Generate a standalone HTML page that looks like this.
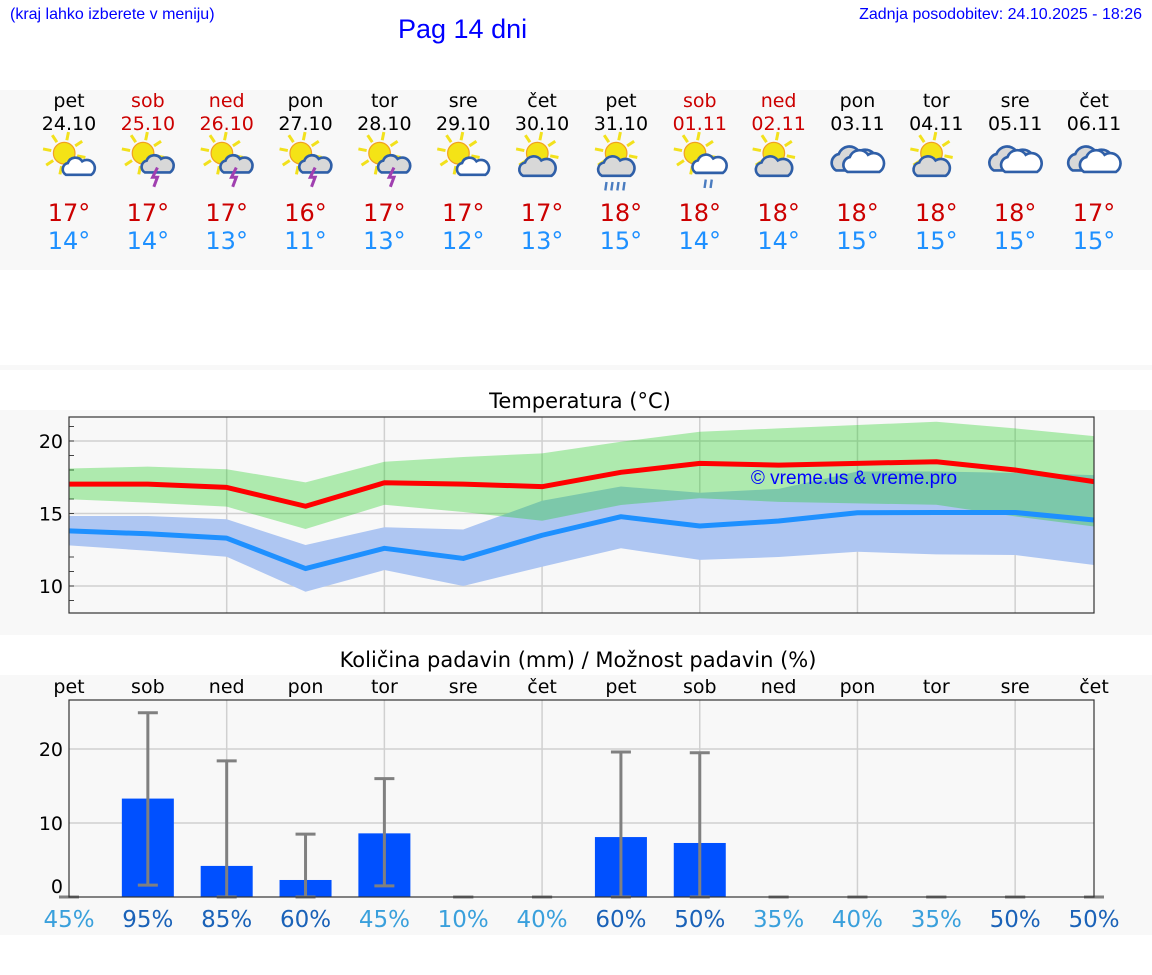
<!DOCTYPE html>
<html><head><meta charset="utf-8">
<style>
body{margin:0;width:1152px;height:975px;background:#fff;font-family:"DejaVu Sans","Liberation Sans",sans-serif;overflow:hidden;position:relative}
.abs{position:absolute}
</style></head>
<body>
<div class="abs" style="left:10px;top:6px;font-size:16px;color:#00f;font-family:'Liberation Sans',sans-serif">(kraj lahko izberete v meniju)</div>
<div class="abs" style="left:398px;top:14px;font-size:27px;color:#00f;font-family:'Liberation Sans',sans-serif">Pag 14 dni</div>
<div class="abs" style="right:10px;top:6px;font-size:16px;color:#00f;font-family:'Liberation Sans',sans-serif">Zadnja posodobitev: 24.10.2025 - 18:26</div>
<svg id="main" class="abs" style="left:0;top:0" width="1152" height="975"></svg>
<script>
const days=["pet","sob","ned","pon","tor","sre","čet","pet","sob","ned","pon","tor","sre","čet"];
const dates=["24.10","25.10","26.10","27.10","28.10","29.10","30.10","31.10","01.11","02.11","03.11","04.11","05.11","06.11"];
const weekend=[0,1,1,0,0,0,0,0,1,1,0,0,0,0];
const icons=["sc","st","st","st","st","sc","sC","sr","sr2","sC","cc","sC","cc","cc"];
const tmaxLbl=[17,17,17,16,17,17,17,18,18,18,18,18,18,17];
const tminLbl=[14,14,13,11,13,12,13,15,14,14,15,15,15,15];
const tMax=[17.03,17.03,16.8,15.5,17.12,17.03,16.85,17.84,18.46,18.34,18.46,18.57,18.0,17.2];
const tMaxHi=[18.1,18.23,18.05,17.15,18.57,18.9,19.15,19.95,20.64,20.87,21.1,21.33,20.87,20.34];
const tMaxLo=[15.98,15.75,15.47,13.93,15.6,15.1,14.5,15.59,16.05,15.8,15.7,15.6,14.8,14.1];
const tMin=[13.8,13.6,13.3,11.2,12.6,11.9,13.5,14.78,14.14,14.48,15.05,15.07,15.07,14.55];
const tMinHi=[14.83,14.83,14.6,12.83,14.05,13.9,15.88,16.86,16.43,16.7,17.9,17.9,17.8,17.65];
const tMinLo=[12.8,12.43,12.02,9.6,11.1,10.0,11.33,12.6,11.8,12.0,12.36,12.18,12.14,11.45];
const tTicks=[10,15,20];
const rain=[0,13.3,4.2,2.3,8.6,0,0,8.1,7.3,0,0,0,0,0];
const rainHi=[0,24.9,18.4,8.5,16,0,0,19.6,19.5,0,0,0,0,0];
const rainLo=[0,1.6,0,0,1.5,0,0,0,0,0,0,0,0,0];
const prob=[45,95,85,60,45,10,40,60,50,35,40,35,50,50];
const rTicks=[0,10,20];

const NS="http://www.w3.org/2000/svg";
const svg=document.getElementById('main');
function mk(tag,attrs,parent,text){const e=document.createElementNS(NS,tag);for(const k in attrs)e.setAttribute(k,attrs[k]);if(text!==undefined)e.textContent=text;(parent||svg).appendChild(e);return e;}
const X=i=>69+i*(1094-69)/13;
const yT=v=>441-(v-20)*14.5;
const yR=v=>897-v*7.4;
const F="DejaVu Sans, Liberation Sans, sans-serif";

let b;
b=mk('rect',{x:0,y:90,width:1152,height:180,fill:'#f8f8f8'});

b=mk('rect',{x:0,y:365,width:1152,height:5,fill:'#f8f8f8'});

b=mk('rect',{x:0,y:410,width:1152,height:225,fill:'#f8f8f8'});

b=mk('rect',{x:0,y:675,width:1152,height:260,fill:'#f8f8f8'});


function sun(g,cx,cy,r){for(let k=0;k<8;k++){const a=k*Math.PI/4+0.2;mk('line',{x1:cx+Math.cos(a)*(r+2),y1:cy+Math.sin(a)*(r+2),x2:cx+Math.cos(a)*(r+9),y2:cy+Math.sin(a)*(r+9),stroke:'#f2e11c','stroke-width':2.5},g);}mk('circle',{cx:cx,cy:cy,r:r,fill:'#f4e316',stroke:'#f0a020','stroke-width':1},g);}
function cloud(g,cx,cy,s,fill){const p=`M${cx-14*s},${cy+8*s} a${7*s},${7*s} 0 0 1 ${2*s},${-13*s} a${9*s},${9*s} 0 0 1 ${16*s},${-2*s} a${7*s},${7*s} 0 0 1 ${10*s},${15*s} z`;mk('path',{d:p,fill:fill,stroke:'#2f5fa8','stroke-width':2.2},g);}
function icon(i,type){const cx=X(i),cy=158;const g=mk('g',{transform:`translate(${cx},${cy}) scale(1.2) translate(${-cx},${-cy})`});
 if(type==='cc'){cloud(g,cx-3,cy+2,1.05,'#d8d8d8');cloud(g,cx+5,cy+4,0.95,'#fff');return;}
 sun(g,cx-4,cy-4,9);
 if(type==='sc'){cloud(g,cx+8,cy+8,0.75,'#fff');}
 else if(type==='st'){cloud(g,cx+8,cy+6,0.75,'#d8d8d8');mk('path',{d:`M${cx+8},${cy+8} l-4,8 h4 l-3,8`,stroke:'#a040b0','stroke-width':2.5,fill:'none'},g);}
 else if(type==='sC'){cloud(g,cx-4,cy+8,0.85,'#d8d8d8');}
 else if(type==='sr'){cloud(g,cx-4,cy+8,0.85,'#d8d8d8');for(let k=0;k<4;k++)mk('line',{x1:cx-12+k*5,y1:cy+20,x2:cx-13+k*5,y2:cy+27,stroke:'#4a7cc0','stroke-width':2},g);}
 else if(type==='sr2'){cloud(g,cx+8,cy+6,0.8,'#fff');for(let k=0;k<2;k++)mk('line',{x1:cx+5+k*5,y1:cy+18,x2:cx+4+k*5,y2:cy+25,stroke:'#4a7cc0','stroke-width':2},g);}
}
for(let i=0;i<14;i++){
 const c=weekend[i]?'#cc0000':'#000';
 let t=mk('text',{x:X(i),y:107,'text-anchor':'middle','font-size':19,fill:c,'font-family':F},svg,days[i]);
 
 t=mk('text',{x:X(i),y:130,'text-anchor':'middle','font-size':19,fill:c,'font-family':F},svg,dates[i]);
 
 icon(i,icons[i]);
 t=mk('text',{x:X(i),y:221,'text-anchor':'middle','font-size':24,fill:'#cc0000','font-family':F},svg,tmaxLbl[i]+'°');
 
 t=mk('text',{x:X(i),y:249,'text-anchor':'middle','font-size':24,fill:'#1e90ff','font-family':F},svg,tminLbl[i]+'°');
 
}

let t=mk('text',{x:580,y:408,'text-anchor':'middle','font-size':21,fill:'#000','font-family':F},svg,'Temperatura (°C)');

const tg=mk('g',{});
mk('rect',{x:69,y:417,width:1025,height:196,fill:'#f8f8f8'},tg);
for(let i=2;i<14;i+=2)mk('line',{x1:X(i),y1:417,x2:X(i),y2:613,stroke:'#d0d0d0','stroke-width':1.5},tg);
tTicks.forEach(v=>{mk('line',{x1:69,y1:yT(v),x2:1094,y2:yT(v),stroke:'#d0d0d0','stroke-width':1.5},tg);
 const l=mk('text',{x:63,y:yT(v)+7,'text-anchor':'end','font-size':19,fill:'#000','font-family':F},tg,v);
 });
for(let v=9;v<=21;v++)mk('line',{x1:69,y1:yT(v),x2:74,y2:yT(v),stroke:'#444','stroke-width':1},tg);
function band(hi,lo,fill,name){let d='';hi.forEach((v,i)=>d+=(i?'L':'M')+X(i)+','+yT(v));for(let i=lo.length-1;i>=0;i--)d+='L'+X(i)+','+yT(lo[i]);const p=mk('path',{d:d+'Z',fill:fill},tg);}
function line(a,col,name){const p=mk('polyline',{points:a.map((v,i)=>X(i)+','+yT(v)).join(' '),fill:'none',stroke:col,'stroke-width':5,'stroke-linejoin':'round'},tg);}
band(tMinHi,tMinLo,'rgb(174,198,242)','min-temp-band');
band(tMaxHi,tMaxLo,'rgba(20,205,20,0.324)','max-temp-band');
line(tMin,'#1e90ff','min-temp-line');
line(tMax,'#ff0000','max-temp-line');
t=mk('text',{x:854,y:484,'text-anchor':'middle','font-size':19,fill:'#0000ff','font-family':'Liberation Sans, sans-serif'},tg,'© vreme.us & vreme.pro');

mk('rect',{x:69,y:417,width:1025,height:196,fill:'none',stroke:'#333','stroke-width':1.2},tg);

t=mk('text',{x:578,y:667,'text-anchor':'middle','font-size':21,fill:'#000','font-family':F},svg,'Količina padavin (mm) / Možnost padavin (%)');

const pg=mk('g',{});
for(let i=0;i<14;i++){const l=mk('text',{x:X(i),y:693,'text-anchor':'middle','font-size':19,fill:'#000','font-family':F},pg,days[i]);}
mk('rect',{x:69,y:700,width:1025,height:197,fill:'#f8f8f8'},pg);
for(let i=2;i<14;i+=2)mk('line',{x1:X(i),y1:700,x2:X(i),y2:897,stroke:'#d0d0d0','stroke-width':1.5},pg);
rTicks.forEach(v=>{if(v>0)mk('line',{x1:69,y1:yR(v),x2:1094,y2:yR(v),stroke:'#d0d0d0','stroke-width':1.5},pg);
 const l=mk('text',{x:63,y:(v===0?yR(v)-4:yR(v)+7),'text-anchor':'end','font-size':19,fill:'#000','font-family':F},pg,v);
 });
for(let i=0;i<14;i++){
 if(rain[i]>0){const r=mk('rect',{x:X(i)-26,y:yR(rain[i]),width:52,height:yR(0)-yR(rain[i]),fill:'#0050ff'},pg);}
 const e=mk('g',{},pg);
 mk('line',{x1:X(i),y1:yR(rainLo[i]),x2:X(i),y2:yR(rainHi[i]),stroke:'#808080','stroke-width':3},e);
 mk('line',{x1:X(i)-10,y1:yR(rainHi[i]),x2:X(i)+10,y2:yR(rainHi[i]),stroke:'#808080','stroke-width':3},e);
 mk('line',{x1:X(i)-10,y1:yR(rainLo[i]),x2:X(i)+10,y2:yR(rainLo[i]),stroke:'#808080','stroke-width':3},e);
 const p=mk('text',{x:X(i),y:927,'text-anchor':'middle','font-size':23,fill:prob[i]>=50?'#1a62b8':'#3aa0dc','font-family':F},pg,prob[i]+'%');
 
}
mk('rect',{x:69,y:700,width:1025,height:197,fill:'none',stroke:'#333','stroke-width':1.2},pg);
</script>
</body></html>
